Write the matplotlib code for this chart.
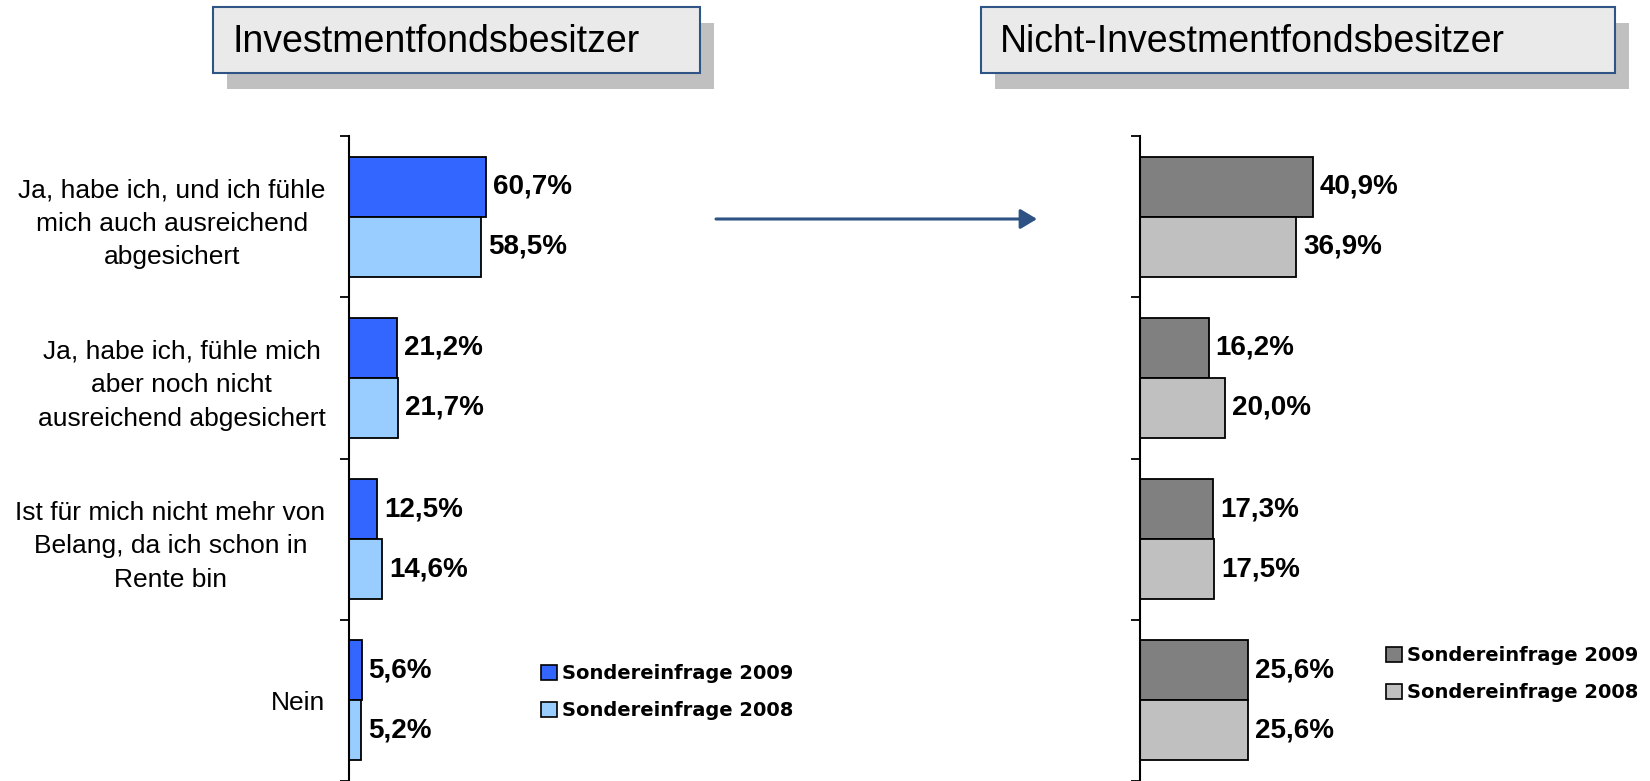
import matplotlib
matplotlib.use("Agg")
import matplotlib.pyplot as plt
from matplotlib.patches import Rectangle, Patch, FancyArrowPatch

plt.rcParams['font.family'] = ['Liberation Sans', 'DejaVu Sans']

categories = [
    "Ja, habe ich, und ich fühle\nmich auch ausreichend\nabgesichert",
    "Ja, habe ich, fühle mich\naber noch nicht\nausreichend abgesichert",
    "Ist für mich nicht mehr von\nBelang, da ich schon in\nRente bin",
    "Nein",
]
series_labels = ["Sondereinfrage 2009", "Sondereinfrage 2008"]
fonds_2009 = [60.7, 21.2, 12.5, 5.6]
fonds_2008 = [58.5, 21.7, 14.6, 5.2]
nonfonds_2009 = [40.9, 16.2, 17.3, 25.6]
nonfonds_2008 = [36.9, 20.0, 17.5, 25.6]
titles = ["Investmentfondsbesitzer", "Nicht-Investmentfondsbesitzer"]

W, H = 1650, 781
fig = plt.figure(figsize=(W / 100, H / 100), dpi=100)


def fx(px):
    return px / W


def fy(py):
    # py measured from top
    return 1 - py / H


def fmt(v):
    return f"{v:.1f}".replace(".", ",") + "%"


def panel(x0, width, px_per_pct, v09, v08, colors, show_labels, leg_x, leg_y):
    ax = fig.add_axes([fx(x0), 0, fx(width), (H - 136) / H])
    ax.set_xlim(0, width / px_per_pct)
    ax.set_ylim(len(categories) - 0.5, -0.5)
    bh = 0.372
    y = list(range(len(categories)))
    b1 = ax.barh([i - bh / 2 for i in y], v09, height=bh, color=colors[0],
                 edgecolor='black', linewidth=1.3)
    b2 = ax.barh([i + bh / 2 for i in y], v08, height=bh, color=colors[1],
                 edgecolor='black', linewidth=1.3)
    for bars, vals in ((b1, v09), (b2, v08)):
        for r, v in zip(bars, vals):
            ax.annotate(fmt(v), (v, r.get_y() + r.get_height() / 2),
                        xytext=(5, 0), textcoords='offset points',
                        ha='left', va='center', fontsize=20, fontweight='bold')
    for s in ('top', 'right', 'bottom'):
        ax.spines[s].set_visible(False)
    ax.spines['left'].set_linewidth(1.5)
    ax.set_xticks([])
    ax.set_yticks(y)
    if show_labels:
        ax.set_yticklabels(categories, fontsize=19, ha='right',
                           multialignment='center', linespacing=1.5)
    else:
        ax.set_yticklabels([])
    ax.tick_params(axis='y', which='major', length=0, pad=17)
    ax.set_yticks([i - 0.5 for i in range(len(categories) + 1)], minor=True)
    ax.tick_params(axis='y', which='minor', length=6.5, width=1.3)
    handles = [Patch(facecolor=c, edgecolor='black', linewidth=1.2) for c in colors]
    ax.legend(handles, series_labels, loc='upper left',
              bbox_to_anchor=(fx(leg_x), fy(leg_y)), bbox_transform=fig.transFigure,
              frameon=False, borderpad=0, borderaxespad=0,
              handlelength=0.8, handleheight=0.8, handletextpad=0.3,
              labelspacing=0.95,
              prop={'size': 14, 'weight': 'bold', 'family': 'DejaVu Sans'})
    return ax


panel(349, 560, 2.257, fonds_2009, fonds_2008, ['#3366FF', '#99CCFF'], True, 541, 664)
panel(1140, 500, 4.23, nonfonds_2009, nonfonds_2008, ['#808080', '#C0C0C0'], False, 1386, 646)

# title boxes with shadow
for (x0, x1, tx), title in zip([(213, 700, 233), (981, 1615, 1000)], titles):
    fig.patches.append(Rectangle((fx(x0 + 14), fy(89)), fx(x1 - x0), fy(23) - fy(89),
                                 transform=fig.transFigure, facecolor='#C0C0C0',
                                 edgecolor='none', zorder=1))
    fig.patches.append(Rectangle((fx(x0), fy(73)), fx(x1 - x0), fy(7) - fy(73),
                                 transform=fig.transFigure, facecolor='#EAEAEA',
                                 edgecolor='#2F5486', linewidth=1.5, zorder=2))
    fig.text(fx(tx), fy(42), title, fontsize=27, ha='left', va='center', zorder=3)

arrow = FancyArrowPatch((fx(716), fy(219)), (fx(1037), fy(219)),
                        transform=fig.transFigure, arrowstyle='-|>,head_length=0.5,head_width=0.3',
                        mutation_scale=20, color='#2E5283', linewidth=2.2,
                        shrinkA=0, shrinkB=0)
fig.patches.append(arrow)

fig.savefig("out.png", dpi=100)
